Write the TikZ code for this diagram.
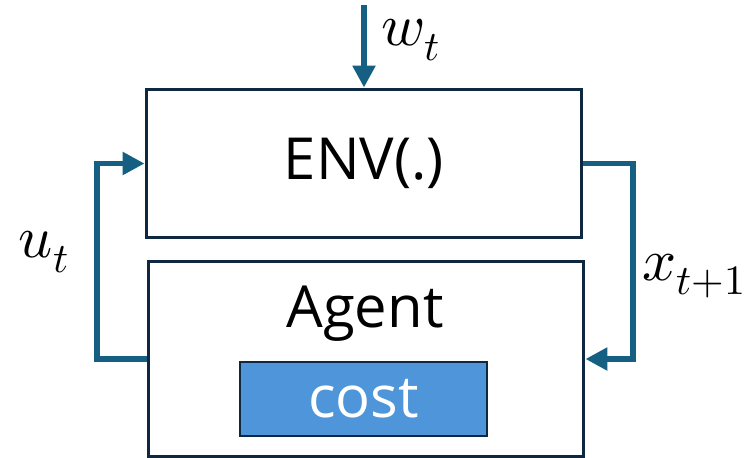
\documentclass[tikz,border=0pt]{standalone}
\usepackage{amsmath}
\usepackage{fontspec}
\usepackage{unicode-math}
\setmainfont{Open Sans}
\setmathfont{Latin Modern Math}
\usetikzlibrary{arrows.meta}

\begin{document}
\begin{tikzpicture}[x=0.02cm,y=-0.02cm]
	\definecolor{flowcolor}{HTML}{156082}
	\definecolor{edgecolor}{HTML}{0E2841}
	\definecolor{costcolor}{HTML}{4E95D9}
	\tikzset{box/.style={draw=edgecolor,line width=1.7pt,rectangle,inner sep=0pt},
	  flow/.style={draw=flowcolor,line width=3.4pt,-{Triangle[length=0.44cm,width=0.44cm]}},
	  bigtext/.style={font=\fontsize{33}{38}\selectfont},
	  mathtext/.style={font=\fontsize{34}{38}\selectfont,inner sep=1pt}}

	\useasboundingbox (0,0) rectangle (750,457);

	\node[box,minimum width=8.72cm,minimum height=2.98cm,bigtext] (env) at (364,163.5) {ENV(.)};
	\node[box,minimum width=8.72cm,minimum height=3.9cm] (agent) at (366,359) {};
	\node[bigtext] (agentname) at (365,314) {Agent};
	\node[box,line width=1.2pt,fill=costcolor,text=white,minimum width=4.94cm,minimum height=1.48cm,bigtext] (cost) at (363.5,399) {cost};

	\coordinate (wtop) at (364,5);
	\draw[flow] (wtop) -- (env.north);
	\draw[flow] (agent.west) -- ++(-50,0) |- (env.west);
	\draw[flow] (env.east) -- ++(50,0) |- (agent.east);

	\node[mathtext] (wlabel) at (411,40) {$w_t$};
	\node[mathtext] (ulabel) at (44,252) {$u_t$};
	\node[mathtext] (xlabel) at (694,276) {$x_{t+1}$};
\end{tikzpicture}
\end{document}
